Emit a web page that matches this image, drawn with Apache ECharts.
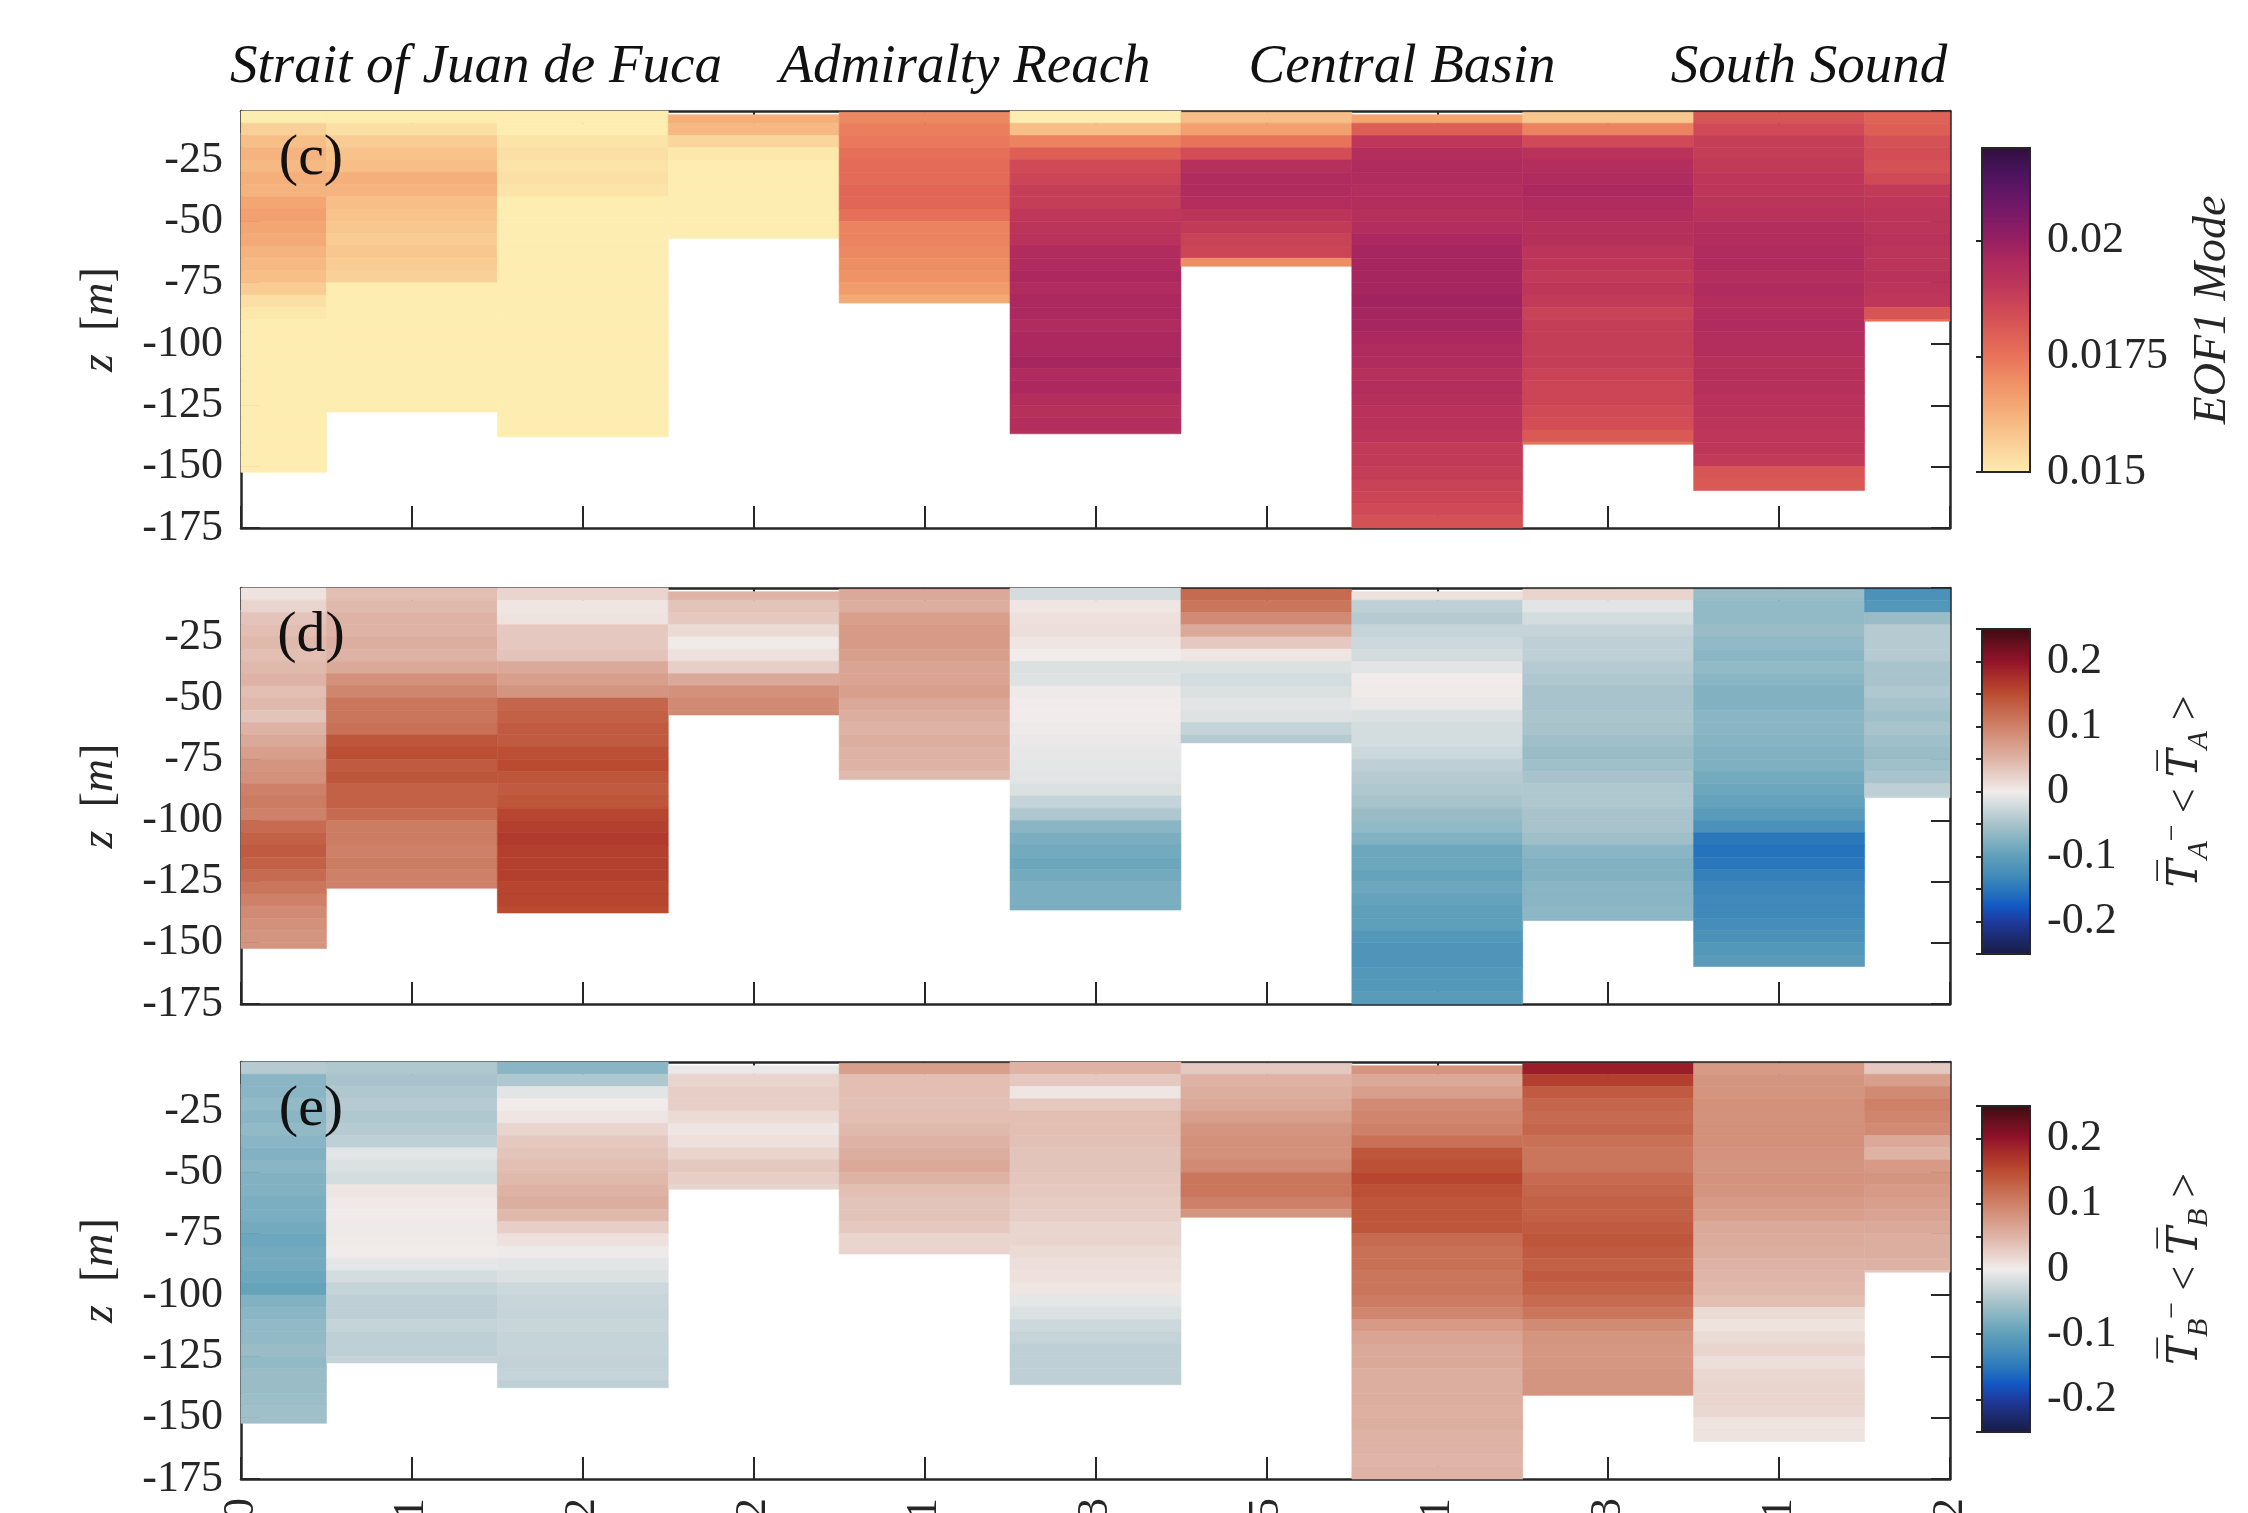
<!DOCTYPE html>
<html>
<head>
<meta charset="utf-8">
<title>EOF1 mode and temperature anomalies along the channel</title>
<script src="https://cdn.jsdelivr.net/npm/echarts@6/dist/echarts.min.js"></script>
<style>
  html, body { margin: 0; padding: 0; background: #ffffff; }
  #chart { width: 2248px; height: 1513px; }
</style>
</head>
<body>
<div id="chart"></div>
<script>
// station tick labels (only their ends show under the bottom panel)
var xLabels = ['0', '1', '2', '2', '1', '3', '5', '1', '3', '1', '2'];
var regionNames = ['Strait of Juan de Fuca', 'Admiralty Reach', 'Central Basin', 'South Sound'];
var panelLabels = ['(c)', '(d)', '(e)'];

// depth bins [m], 5 m apart
var binEdges = [-5, -10, -15, -20, -25, -30, -35, -40, -45, -50, -55, -60, -65, -70, -75, -80, -85, -90,
  -95, -100, -105, -110, -115, -120, -125, -130, -135, -140, -145, -150, -155, -160, -165, -170, -175];
// top and bottom of each station profile [m]
var colTop = [-5, -5, -5, -6.5, -5.5, -5, -5.5, -6.5, -5.5, -5.5, -5.5];
var colBottom = [-152.3, -127.7, -137.8, -56.9, -83.3, -136.6, -68.3, -175, -140.9, -159.7, -90.7];

// (c) EOF1 mode, one list per station, top to bottom
var eofProfiles = [
  [0.0150, 0.0156, 0.0160, 0.0162, 0.0161, 0.0163, 0.0162, 0.0165, 0.0166, 0.0165, 0.0164, 0.0162, 0.0161, 0.0160, 0.0157,
   0.0153, 0.0151, 0.0150, 0.0150, 0.0150, 0.0150, 0.0150, 0.0150, 0.0150, 0.0150, 0.0150, 0.0150, 0.0150, 0.0150, 0.0150],
  [0.0150, 0.0153, 0.0157, 0.0159, 0.0160, 0.0163, 0.0162, 0.0160, 0.0159, 0.0158, 0.0157, 0.0158, 0.0157, 0.0156,
   0.0150, 0.0150, 0.0150, 0.0150, 0.0150, 0.0150, 0.0150, 0.0150, 0.0150, 0.0150, 0.0150],
  [0.0150, 0.0150, 0.0152, 0.0153, 0.0152, 0.0153, 0.0152, 0.0150, 0.0150, 0.0150, 0.0150, 0.0150, 0.0150, 0.0150,
   0.0150, 0.0150, 0.0150, 0.0150, 0.0150, 0.0150, 0.0150, 0.0150, 0.0150, 0.0150, 0.0150, 0.0150, 0.0150],
  [0.0163, 0.0161, 0.0155, 0.0151, 0.0150, 0.0150, 0.0150, 0.0150, 0.0150, 0.0150, 0.0150],
  [0.0171, 0.0173, 0.0174, 0.0176, 0.0177, 0.0177, 0.0178, 0.0178, 0.0176, 0.0172, 0.0172, 0.0171, 0.0170, 0.0169, 0.0167, 0.0164],
  [0.0150, 0.0160, 0.0172, 0.0180, 0.0185, 0.0186, 0.0188, 0.0188, 0.0190, 0.0191, 0.0192, 0.0195, 0.0195, 0.0196,
   0.0195, 0.0196, 0.0196, 0.0195, 0.0196, 0.0196, 0.0197, 0.0195, 0.0196, 0.0194, 0.0193, 0.0194, 0.0193],
  [0.0160, 0.0166, 0.0175, 0.0184, 0.0193, 0.0195, 0.0195, 0.0194, 0.0191, 0.0189, 0.0187, 0.0186, 0.0170],
  [0.0165, 0.0180, 0.0190, 0.0194, 0.0195, 0.0195, 0.0194, 0.0194, 0.0193, 0.0194, 0.0196, 0.0197, 0.0197, 0.0197,
   0.0197, 0.0198, 0.0197, 0.0197, 0.0196, 0.0195, 0.0195, 0.0193, 0.0194, 0.0193, 0.0192, 0.0192, 0.0191, 0.0189,
   0.0189, 0.0188, 0.0187, 0.0186, 0.0185, 0.0183],
  [0.0158, 0.0172, 0.0185, 0.0192, 0.0194, 0.0195, 0.0196, 0.0195, 0.0194, 0.0193, 0.0193, 0.0191, 0.0190, 0.0189,
   0.0190, 0.0189, 0.0187, 0.0188, 0.0188, 0.0188, 0.0188, 0.0187, 0.0186, 0.0186, 0.0185, 0.0184, 0.0181, 0.0176],
  [0.0182, 0.0185, 0.0188, 0.0188, 0.0189, 0.0190, 0.0190, 0.0191, 0.0192, 0.0194, 0.0194, 0.0195, 0.0195, 0.0194,
   0.0195, 0.0194, 0.0194, 0.0195, 0.0194, 0.0194, 0.0193, 0.0193, 0.0193, 0.0192, 0.0192, 0.0191, 0.0190, 0.0190,
   0.0189, 0.0182, 0.0181],
  [0.0179, 0.0180, 0.0183, 0.0184, 0.0183, 0.0185, 0.0189, 0.0190, 0.0191, 0.0191, 0.0192, 0.0191, 0.0191, 0.0192,
   0.0191, 0.0190, 0.0182, 0.0176]
];

// (d) T_A anomaly
var taProfiles = [
  [0.008, 0.02, 0.035, 0.04, 0.045, 0.04, 0.045, 0.05, 0.04, 0.045, 0.035, 0.05, 0.06, 0.07, 0.08,
   0.085, 0.10, 0.105, 0.10, 0.12, 0.13, 0.135, 0.13, 0.12, 0.11, 0.10, 0.09, 0.085, 0.08, 0.08],
  [0.04, 0.045, 0.05, 0.05, 0.055, 0.05, 0.06, 0.085, 0.095, 0.11, 0.11, 0.115, 0.14, 0.145, 0.135,
   0.14, 0.13, 0.13, 0.12, 0.105, 0.105, 0.10, 0.105, 0.10, 0.10],
  [0.02, 0.005, 0.008, 0.03, 0.03, 0.035, 0.06, 0.07, 0.08, 0.125, 0.13, 0.135, 0.135, 0.145, 0.15,
   0.14, 0.135, 0.14, 0.155, 0.16, 0.165, 0.16, 0.16, 0.16, 0.155, 0.155, 0.15],
  [0.05, 0.035, 0.03, 0.015, 0.002, 0.01, 0.025, 0.06, 0.085, 0.09, 0.09],
  [0.06, 0.055, 0.07, 0.075, 0.075, 0.07, 0.065, 0.065, 0.07, 0.06, 0.055, 0.05, 0.055, 0.05, 0.05, 0.045],
  [-0.02, 0.005, 0.01, 0.012, 0.005, 0.0, -0.015, -0.012, -0.003, 0.0, 0.0, -0.003, -0.005, -0.006, -0.008,
   -0.01, -0.015, -0.03, -0.045, -0.07, -0.08, -0.085, -0.09, -0.085, -0.08, -0.08, -0.08],
  [0.12, 0.11, 0.09, 0.06, 0.03, 0.005, -0.015, -0.02, -0.015, -0.01, -0.012, -0.03, -0.04],
  [0.01, -0.035, -0.04, -0.03, -0.025, -0.02, -0.01, 0.0, 0.002, -0.005, -0.015, -0.02, -0.02, -0.025, -0.035,
   -0.04, -0.045, -0.05, -0.06, -0.065, -0.075, -0.09, -0.09, -0.095, -0.09, -0.095, -0.1, -0.1, -0.11, -0.115,
   -0.115, -0.11, -0.11, -0.105],
  [0.02, -0.01, -0.02, -0.03, -0.035, -0.035, -0.04, -0.045, -0.05, -0.05, -0.048, -0.05, -0.055, -0.06,
   -0.055, -0.05, -0.045, -0.045, -0.05, -0.05, -0.055, -0.07, -0.075, -0.075, -0.07, -0.07, -0.068, -0.07],
  [-0.06, -0.065, -0.065, -0.06, -0.065, -0.07, -0.065, -0.07, -0.075, -0.075, -0.07, -0.07, -0.072, -0.075,
   -0.078, -0.085, -0.09, -0.095, -0.105, -0.12, -0.15, -0.155, -0.15, -0.14, -0.135, -0.13, -0.13, -0.125,
   -0.12, -0.11, -0.105],
  [-0.12, -0.11, -0.06, -0.04, -0.04, -0.04, -0.05, -0.05, -0.045, -0.05, -0.055, -0.05, -0.055, -0.06,
   -0.055, -0.05, -0.035, -0.03]
];

// (e) T_B anomaly
var tbProfiles = [
  [-0.04, -0.07, -0.07, -0.065, -0.07, -0.065, -0.07, -0.075, -0.07, -0.075, -0.075, -0.08, -0.08, -0.085, -0.09,
   -0.085, -0.085, -0.09, -0.095, -0.075, -0.07, -0.065, -0.065, -0.06, -0.065, -0.06, -0.06, -0.058, -0.055, -0.055],
  [-0.045, -0.05, -0.045, -0.04, -0.045, -0.04, -0.035, -0.01, -0.015, -0.02, 0.005, 0.003, 0.0, -0.003, 0.002,
   0.0, -0.008, -0.02, -0.03, -0.035, -0.035, -0.03, -0.035, -0.035, -0.03],
  [-0.07, -0.045, -0.01, 0.0, 0.005, 0.02, 0.03, 0.035, 0.04, 0.045, 0.05, 0.055, 0.045, 0.025, 0.01,
   -0.002, -0.01, -0.015, -0.025, -0.028, -0.03, -0.028, -0.03, -0.03, -0.032, -0.03, -0.035],
  [-0.005, 0.02, 0.025, 0.025, 0.015, 0.005, 0.01, 0.02, 0.03, 0.025, 0.02],
  [0.07, 0.04, 0.04, 0.038, 0.04, 0.045, 0.05, 0.055, 0.06, 0.05, 0.04, 0.035, 0.035, 0.03, 0.02, 0.02],
  [0.05, 0.03, 0.005, 0.03, 0.04, 0.04, 0.038, 0.035, 0.035, 0.033, 0.03, 0.028, 0.025, 0.02, 0.02,
   0.015, 0.012, 0.01, 0.005, -0.008, -0.015, -0.025, -0.03, -0.035, -0.035, -0.035, -0.035],
  [0.03, 0.05, 0.055, 0.06, 0.07, 0.08, 0.085, 0.085, 0.09, 0.11, 0.11, 0.10, 0.08],
  [0.08, 0.06, 0.07, 0.09, 0.095, 0.1, 0.115, 0.14, 0.145, 0.155, 0.145, 0.14, 0.14, 0.14, 0.12,
   0.115, 0.115, 0.11, 0.11, 0.105, 0.095, 0.075, 0.065, 0.06, 0.06, 0.055, 0.055, 0.055, 0.053, 0.055,
   0.05, 0.05, 0.048, 0.05],
  [0.19, 0.16, 0.135, 0.125, 0.12, 0.125, 0.115, 0.11, 0.11, 0.12, 0.125, 0.13, 0.13, 0.135,
   0.14, 0.135, 0.13, 0.135, 0.13, 0.12, 0.11, 0.09, 0.08, 0.078, 0.078, 0.08, 0.08, 0.085],
  [0.075, 0.08, 0.08, 0.085, 0.083, 0.085, 0.085, 0.082, 0.08, 0.082, 0.08, 0.075, 0.07, 0.06, 0.058,
   0.055, 0.05, 0.048, 0.045, 0.04, 0.015, 0.008, 0.015, 0.02, 0.012, 0.018, 0.02, 0.02, 0.018, 0.008, 0.008],
  [0.03, 0.07, 0.09, 0.1, 0.095, 0.09, 0.06, 0.05, 0.075, 0.08, 0.075, 0.07, 0.065, 0.06, 0.055, 0.055, 0.05, 0.03]
];

// colour scales
var eofRange = [0.015, 0.022];
var anomalyRange = [-0.25, 0.25];
var matterColors = ['#FEEDB0', '#FAD59C', '#F7BE87', '#F3A572', '#EE8E64', '#E8735A', '#DC5E55', '#CF4956',
  '#BE375A', '#B02B5E', '#971F62', '#7D1A67', '#631766', '#48135A', '#2E0E3C'];
var balanceColors = ['#181C43', '#1C2A6E', '#1F3A9C', '#1259C4', '#2A78BB', '#468DBA', '#5E9FB9', '#82B2C2',
  '#A8C3CB', '#CCD8DB', '#F1ECEB', '#E7CFC7', '#DEB3A6', '#D69A86', '#CE8168', '#C4664C', '#BA4B30', '#A92F2B',
  '#8F1229', '#67101E', '#3C0912'];

var ink = '#262626';
var serif = 'Liberation Serif';

// turn the profiles into cells: [station, upper z, lower z, value]
function buildCells(profiles) {
  var cells = [];
  profiles.forEach(function (col, i) {
    col.forEach(function (v, k) {
      var upper = Math.min(binEdges[k], colTop[i]);
      var lower = Math.max(binEdges[k + 1], colBottom[i]);
      cells.push([i, upper, lower, v]);
    });
  });
  return cells;
}

function renderCell(params, api) {
  var p0 = api.coord([api.value(0) - 0.5, api.value(1)]);
  var p1 = api.coord([api.value(0) + 0.5, api.value(2)]);
  var cs = params.coordSys;
  var rect = echarts.graphic.clipRectByRect(
    { x: p0[0], y: p0[1], width: p1[0] - p0[0], height: p1[1] - p0[1] },
    { x: cs.x, y: cs.y, width: cs.width, height: cs.height }
  );
  if (!rect) return;
  var c = api.visual('color');
  return { type: 'rect', shape: rect, style: { fill: c, stroke: c, lineWidth: 0.6 } };
}

function colorbarRenderer(colors) {
  return function (params, api) {
    var p0 = api.coord([0, api.value(1)]);
    var p1 = api.coord([1, api.value(0)]);
    var stops = colors.map(function (c, k) {
      return { offset: k / (colors.length - 1), color: c };
    });
    return {
      type: 'rect',
      shape: { x: p0[0], y: p0[1], width: p1[0] - p0[0], height: p1[1] - p0[1] },
      style: { fill: new echarts.graphic.LinearGradient(0, 1, 0, 0, stops), stroke: ink, lineWidth: 2 }
    };
  };
}

var panelGrids = [
  { left: 241, top: 111, width: 1709, height: 417, outerBoundsMode: 'none' },
  { left: 241, top: 588, width: 1709, height: 416, outerBoundsMode: 'none' },
  { left: 241, top: 1062, width: 1709, height: 417, outerBoundsMode: 'none' }
];
var cbGrids = [
  { left: 1982, top: 148, width: 48, height: 324, outerBoundsMode: 'none' },
  { left: 1982, top: 629, width: 48, height: 325, outerBoundsMode: 'none' },
  { left: 1982, top: 1106, width: 48, height: 326, outerBoundsMode: 'none' }
];

var xAxes = [], yAxes = [];
panelGrids.forEach(function (g, i) {
  ['bottom', 'top'].forEach(function (pos) {
    xAxes.push({
      type: 'value', gridIndex: i, position: pos, min: 0, max: 10, interval: 1,
      axisLine: { show: true, onZero: false, lineStyle: { color: ink, width: 2.5 } },
      axisTick: { show: true, inside: true, length: 22, lineStyle: { color: ink, width: 2 } },
      splitLine: { show: false },
      axisLabel: {
        show: i === 2 && pos === 'bottom', rotate: 90, margin: 19,
        fontFamily: serif, fontSize: 44, color: ink,
        formatter: function (v) { return xLabels[Math.round(v)]; }
      }
    });
  });
  ['left', 'right'].forEach(function (pos) {
    yAxes.push({
      type: 'value', gridIndex: i, position: pos, min: -175, max: -5, interval: 25,
      name: pos === 'left' ? '{i|z}  [{i|m}]' : '',
      nameLocation: 'middle', nameGap: 118, nameRotate: 90,
      nameTextStyle: {
        fontFamily: serif, fontSize: 46, color: ink,
        rich: { i: { fontFamily: serif, fontStyle: 'italic', fontSize: 46, color: ink } }
      },
      axisLine: { show: true, onZero: false, lineStyle: { color: ink, width: 2.5 } },
      axisTick: { show: true, inside: true, length: 19, lineStyle: { color: ink, width: 2 } },
      splitLine: { show: false },
      axisLabel: {
        show: pos === 'left', margin: 18, showMaxLabel: false,
        fontFamily: serif, fontSize: 44, color: ink
      }
    });
  });
});

var tName = function (sub) {
  return '{t|T\u0305}{s|' + sub + '}{m|\u2212}{n| < }{t|T\u0305}{s|' + sub + '}{n| >}';
};
var cbRich = {
  t: { fontFamily: 'DejaVu Serif', fontStyle: 'italic', fontSize: 42, lineHeight: 56, color: ink },
  n: { fontFamily: serif, fontSize: 44, lineHeight: 56, color: ink },
  s: { fontFamily: serif, fontStyle: 'italic', fontSize: 30, lineHeight: 30, verticalAlign: 'bottom', color: ink },
  m: { fontFamily: serif, fontSize: 30, lineHeight: 30, verticalAlign: 'top', color: ink }
};
var cbNames = ['EOF1 Mode', tName('A'), tName('B')];
var cbRanges = [eofRange, anomalyRange, anomalyRange];

cbGrids.forEach(function (g, i) {
  xAxes.push({ type: 'value', gridIndex: 3 + i, min: 0, max: 1, show: false });
  yAxes.push({
    type: 'value', gridIndex: 3 + i, position: 'right',
    min: cbRanges[i][0], max: cbRanges[i][1], interval: i === 0 ? 0.0025 : 0.05,
    name: cbNames[i], nameLocation: 'middle', nameRotate: 90, nameGap: i === 0 ? 160 : 128,
    nameTextStyle: { fontFamily: serif, fontStyle: i === 0 ? 'italic' : 'normal', fontSize: 46, color: ink, rich: cbRich },
    axisLine: { show: false },
    axisTick: { show: true, inside: true, length: 6, lineStyle: { color: ink, width: 2 } },
    splitLine: { show: false },
    axisLabel: {
      margin: 17, fontFamily: serif, fontSize: 44, color: ink, showMaxLabel: i !== 0,
      formatter: i === 0 ? null : function (v) {
        var r = Math.round(v * 100);
        if (Math.abs(r) > 20 || r % 10 !== 0) return '';
        return String(r / 100);
      }
    }
  });
});

var series = [eofProfiles, taProfiles, tbProfiles].map(function (p, i) {
  return {
    type: 'custom', xAxisIndex: 2 * i, yAxisIndex: 2 * i, silent: true,
    renderItem: renderCell, encode: { x: 0, y: [1, 2] }, data: buildCells(p)
  };
});
[matterColors, balanceColors, balanceColors].forEach(function (cols, i) {
  series.push({
    type: 'custom', xAxisIndex: 6 + i, yAxisIndex: 6 + i, silent: true,
    renderItem: colorbarRenderer(cols), data: [cbRanges[i]]
  });
});

var titleX = [476, 965, 1402, 1809];
var graphics = regionNames.map(function (name, k) {
  return {
    type: 'text', x: titleX[k], y: 68, z: 100, silent: true,
    style: { text: name, fontFamily: serif, fontStyle: 'italic', fontSize: 55, fill: '#111', align: 'center', verticalAlign: 'middle' }
  };
});
panelLabels.forEach(function (lab, i) {
  graphics.push({
    type: 'text', x: 311, y: panelGrids[i].top + 48, z: 100, silent: true,
    style: { text: lab, fontFamily: serif, fontSize: 58, fill: '#111', align: 'center', verticalAlign: 'middle' }
  });
});

var chart = echarts.init(document.getElementById('chart'));
chart.setOption({
  animation: false,
  backgroundColor: '#ffffff',
  textStyle: { fontFamily: serif },
  grid: panelGrids.concat(cbGrids),
  xAxis: xAxes,
  yAxis: yAxes,
  visualMap: [
    { type: 'continuous', show: false, seriesIndex: 0, dimension: 3, min: eofRange[0], max: eofRange[1], inRange: { color: matterColors } },
    { type: 'continuous', show: false, seriesIndex: 1, dimension: 3, min: anomalyRange[0], max: anomalyRange[1], inRange: { color: balanceColors } },
    { type: 'continuous', show: false, seriesIndex: 2, dimension: 3, min: anomalyRange[0], max: anomalyRange[1], inRange: { color: balanceColors } }
  ],
  series: series,
  graphic: { elements: graphics }
});
</script>
</body>
</html>
